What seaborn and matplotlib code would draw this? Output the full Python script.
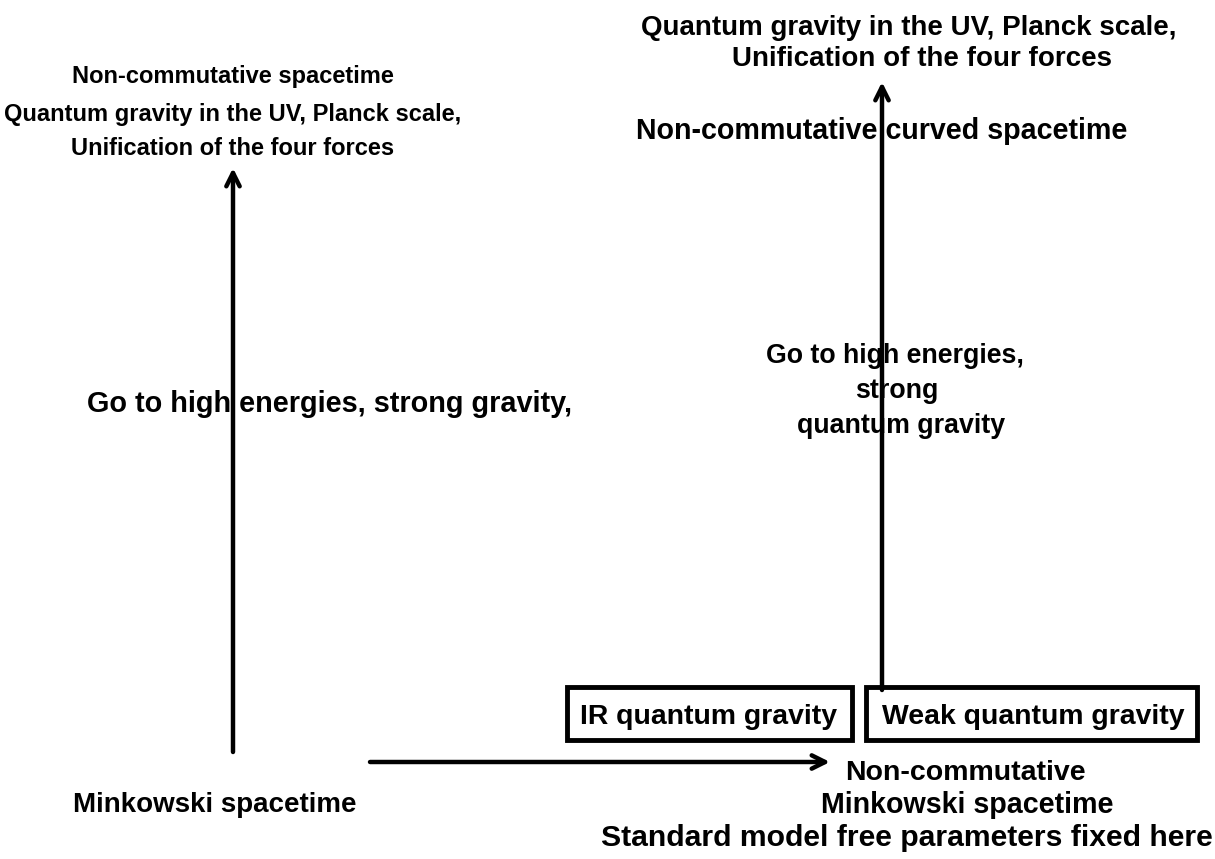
import matplotlib
matplotlib.use("Agg")
import matplotlib.pyplot as plt
import matplotlib.patches as patches
import seaborn as sns

# Textos del diagrama
left_top = ["Non-commutative spacetime",
            "Quantum gravity in the UV, Planck scale,",
            "Unification of the four forces"]
left_middle = ["Go to high energies, strong gravity,"]
left_bottom = ["Minkowski spacetime"]
right_top = ["Quantum gravity in the UV, Planck scale,",
             "Unification of the four forces"]
right_curved = ["Non-commutative curved spacetime"]
right_middle = ["Go to high energies,", "strong", "quantum gravity"]
box_labels = ["IR quantum gravity", "Weak quantum gravity"]
right_bottom = ["Non-commutative", "Minkowski spacetime",
                "Standard model free parameters fixed here"]

sns.set_theme(style="white")
plt.rcParams['font.family'] = ['Liberation Sans', 'DejaVu Sans']

fig = plt.figure(figsize=(12.15, 8.59), dpi=100)
ax = fig.add_axes([0, 0, 1, 1])
ax.set_xlim(0, 1215)
ax.set_ylim(859, 0)
ax.axis('off')


def bloque(lineas, xs, ys, sizes):
    # dibuja un bloque de texto centrado, una linea por posicion
    for t, x, y, s in zip(lineas, xs, ys, sizes):
        ax.text(x, y, t, ha='center', va='baseline', fontsize=s,
                fontweight='bold', color='black')


bloque(left_top, [233, 233, 233], [83, 121, 155], [17, 17, 17])
bloque(left_middle, [330], [412], [20.8])
bloque(left_bottom, [215], [812], [20])
bloque(right_top, [909, 922], [35, 66], [20, 20])
bloque(right_curved, [882], [139], [20.6])
bloque(right_middle, [895, 897, 901], [363, 398, 433], [19.3, 19.3, 19.3])
bloque(box_labels, [709, 1033], [724, 724], [20.4, 20.4])
bloque(right_bottom, [965, 967, 907], [780, 813, 846], [20.5, 20.6, 21.7])

# Cajas
for x0, x1 in [(567, 852), (866, 1197)]:
    ax.add_patch(patches.Rectangle((x0, 687), x1 - x0, 53, fill=False,
                                   lw=3.5, edgecolor='black', zorder=1))

# Flechas
flecha = dict(arrowstyle='->,head_length=0.8,head_width=0.4',
              lw=3.2, color='black', shrinkA=0, shrinkB=0)
ax.annotate('', xy=(233, 168), xytext=(233, 752), arrowprops=flecha)
ax.annotate('', xy=(882, 82), xytext=(882, 690), arrowprops=flecha)
ax.annotate('', xy=(830, 762), xytext=(370, 762), arrowprops=flecha)

fig.savefig('out.png', dpi=100, facecolor='white')
